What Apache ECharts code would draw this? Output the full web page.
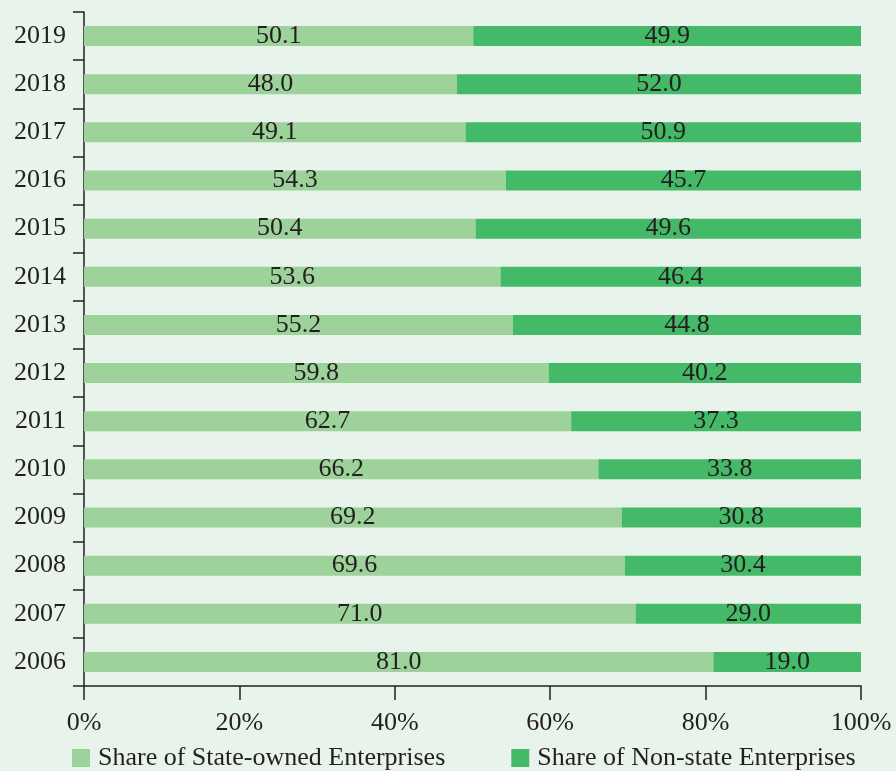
<!DOCTYPE html>
<html>
<head>
<meta charset="utf-8">
<script src="https://cdn.jsdelivr.net/npm/echarts@6/dist/echarts.min.js"></script>
<style>
  html, body { margin: 0; padding: 0; background: #e8f3eb; }
  #chart { width: 896px; height: 771px; }
</style>
</head>
<body>
<div id="chart"></div>
<script>
// Years, bottom to top
const years = ['2006','2007','2008','2009','2010','2011','2012','2013','2014','2015','2016','2017','2018','2019'];
// Share of state-owned enterprises (%)
const stateShare = [81.0, 71.0, 69.6, 69.2, 66.2, 62.7, 59.8, 55.2, 53.6, 50.4, 54.3, 49.1, 48.0, 50.1];
// Share of non-state enterprises (%)
const nonStateShare = [19.0, 29.0, 30.4, 30.8, 33.8, 37.3, 40.2, 44.8, 46.4, 49.6, 45.7, 50.9, 52.0, 49.9];
const xTicks = [0, 20, 40, 60, 80, 100];
const seriesNames = ['Share of State-owned Enterprises', 'Share of Non-state Enterprises'];

const FONT = '"Liberation Serif", "DejaVu Serif", serif';
const TEXT = '#231f20';

const chart = echarts.init(document.getElementById('chart'));

const labelStyle = {
  show: true,
  position: 'inside',
  color: TEXT,
  fontFamily: FONT,
  fontSize: 26,
  formatter: p => p.value.toFixed(1)
};

chart.setOption({
  backgroundColor: '#e8f3eb',
  animation: false,
  grid: { left: 84, right: 35, top: 12, bottom: 85 },
  legend: {
    left: 72,
    top: 745,
    padding: 0,
    icon: 'rect',
    itemWidth: 18,
    itemHeight: 18,
    itemGap: 66,
    textStyle: { color: TEXT, fontFamily: FONT, fontSize: 26, padding: [0, 0, 0, 3] },
    data: seriesNames
  },
  xAxis: {
    type: 'value',
    min: xTicks[0],
    max: xTicks[xTicks.length - 1],
    interval: 20,
    axisLine: { show: true, lineStyle: { color: TEXT, width: 1.5 } },
    axisTick: { show: true, length: 14, lineStyle: { color: TEXT, width: 1.5 } },
    splitLine: { show: false },
    axisLabel: {
      color: TEXT, fontFamily: FONT, fontSize: 26, margin: 24,
      formatter: v => v + '%'
    }
  },
  yAxis: {
    type: 'category',
    data: years,
    axisLine: { show: true, lineStyle: { color: TEXT, width: 1.5 } },
    axisTick: { show: true, length: 11, lineStyle: { color: TEXT, width: 1.5 } },
    axisLabel: { color: TEXT, fontFamily: FONT, fontSize: 26, margin: 18 }
  },
  series: [
    {
      name: seriesNames[0],
      type: 'bar',
      stack: 'total',
      barWidth: 20,
      data: stateShare,
      itemStyle: { color: '#9dd29b' },
      label: labelStyle
    },
    {
      name: seriesNames[1],
      type: 'bar',
      stack: 'total',
      barWidth: 20,
      data: nonStateShare,
      itemStyle: { color: '#44b968' },
      label: labelStyle
    }
  ]
});
</script>
</body>
</html>
